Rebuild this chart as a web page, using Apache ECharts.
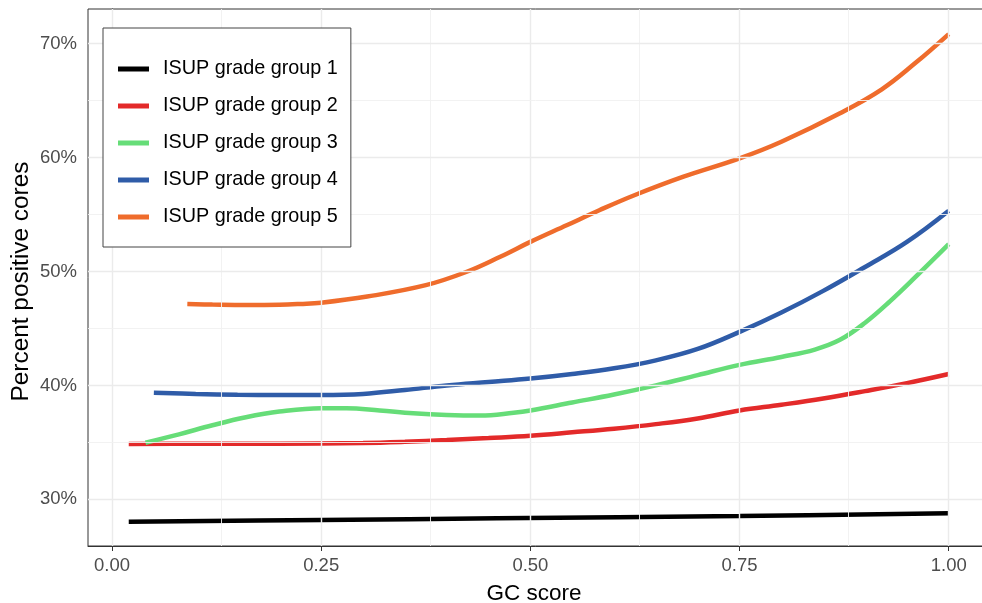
<!DOCTYPE html>
<html>
<head>
<meta charset="utf-8">
<script src="https://cdn.jsdelivr.net/npm/echarts@6/dist/echarts.min.js"></script>
<style>html,body{margin:0;padding:0;background:#fff;}#c{width:982px;height:603px;}</style>
</head>
<body>
<div id="c"></div>
<script>
// ---- data ----
const groupNames = ['ISUP grade group 1','ISUP grade group 2','ISUP grade group 3','ISUP grade group 4','ISUP grade group 5'];
const groupColors = ['#000000','#e32a2a','#66dd78','#2f5ca8','#ef6c2c'];

const g1X = [0.02, 0.25, 0.46, 0.75, 1.0];
const g1Y = [28.03, 28.18, 28.33, 28.53, 28.77];

const g2X = [0.02, 0.1, 0.2, 0.3, 0.35, 0.4, 0.45, 0.5, 0.55, 0.6, 0.65, 0.7, 0.75, 0.8, 0.85, 0.9, 0.95, 1.0];
const g2Y = [34.86, 34.87, 34.88, 34.95, 35.05, 35.2, 35.38, 35.58, 35.88, 36.2, 36.6, 37.1, 37.8, 38.3, 38.85, 39.5, 40.2, 41.0];

const g3X = [0.04, 0.08, 0.12, 0.16, 0.2, 0.25, 0.28, 0.32, 0.36, 0.4, 0.44, 0.48, 0.5, 0.55, 0.6, 0.65, 0.7, 0.75, 0.8, 0.84, 0.87, 0.9, 0.93, 0.96, 1.0];
const g3Y = [34.97, 35.7, 36.5, 37.2, 37.7, 38.0, 38.0, 37.8, 37.55, 37.4, 37.35, 37.6, 37.8, 38.5, 39.2, 40.0, 40.9, 41.8, 42.5, 43.15, 44.0, 45.5, 47.4, 49.5, 52.4];

const g4X = [0.05, 0.1, 0.15, 0.2, 0.25, 0.3, 0.35, 0.4, 0.45, 0.5, 0.55, 0.6, 0.65, 0.7, 0.75, 0.8, 0.85, 0.9, 0.95, 1.0];
const g4Y = [39.36, 39.25, 39.18, 39.16, 39.16, 39.25, 39.6, 40.0, 40.3, 40.6, 41.0, 41.5, 42.2, 43.2, 44.7, 46.4, 48.3, 50.4, 52.6, 55.34];

const g5X = [0.09, 0.12, 0.16, 0.2, 0.225, 0.25, 0.305, 0.375, 0.424, 0.464, 0.5, 0.544, 0.583, 0.625, 0.683, 0.75, 0.8, 0.87, 0.92, 0.96, 1.0];
const g5Y = [47.15, 47.1, 47.06, 47.08, 47.15, 47.26, 47.8, 48.8, 49.98, 51.3, 52.6, 54.08, 55.4, 56.72, 58.33, 59.94, 61.4, 63.9, 66.0, 68.3, 70.85];

const xTicks = [0, 0.25, 0.5, 0.75, 1.0];
const xMinor = [0.125, 0.375, 0.625, 0.875];
const yTicks = [30, 40, 50, 60, 70];
const yMinor = [35, 45, 55, 65];

const xMin = -0.0287, xMax = 1.0493;
const yMin = 25.9, yMax = 73.05;

// ---- build ----
const allX = [g1X, g2X, g3X, g4X, g5X];
const allY = [g1Y, g2Y, g3Y, g4Y, g5Y];
const font = 'Liberation Sans, Arial, sans-serif';

const gridLines = [];
xTicks.forEach(v => gridLines.push({ xAxis: v, lineStyle: { color: '#ebebeb', width: 1.4 } }));
xMinor.forEach(v => gridLines.push({ xAxis: v, lineStyle: { color: '#f0f0f0', width: 0.9 } }));
yTicks.forEach(v => gridLines.push({ yAxis: v, lineStyle: { color: '#ebebeb', width: 1.4 } }));
yMinor.forEach(v => gridLines.push({ yAxis: v, lineStyle: { color: '#f0f0f0', width: 0.9 } }));

const series = [{
  name: '_grid', type: 'line', data: [], silent: true, z: 1,
  markLine: { silent: true, symbol: 'none', label: { show: false }, animation: false,
    lineStyle: { type: 'solid' }, data: gridLines }
}];
groupNames.forEach((n, i) => {
  series.push({
    name: n, type: 'line', smooth: 0.4, symbol: 'none', showSymbol: false, z: 3,
    color: groupColors[i],
    lineStyle: { width: 4.5, color: groupColors[i], cap: 'butt' },
    data: allX[i].map((x, k) => [x, allY[i][k]])
  });
});

const chart = echarts.init(document.getElementById('c'), null, { renderer: 'canvas' });
chart.setOption({
  animation: false,
  backgroundColor: '#ffffff',
  textStyle: { fontFamily: font },
  grid: { left: 88, width: 902, top: 9, bottom: 57, show: true, borderColor: '#333333', borderWidth: 1, backgroundColor: '#ffffff', containLabel: false, outerBoundsMode: 'none' },
  legend: {
    data: groupNames, orient: 'vertical', left: 103, top: 28, z: 20,
    padding: [31, 13, 20, 15], itemWidth: 31, itemHeight: 5, itemGap: 17, icon: 'rect',
    borderColor: '#444444', borderWidth: 1, backgroundColor: '#ffffff',
    textStyle: { fontFamily: font, fontSize: 19.8, lineHeight: 20, color: '#000000', padding: [0, 0, 0, 9] },
    selectedMode: false
  },
  xAxis: {
    type: 'value', min: xMin, max: xMax,
    name: 'GC score', nameLocation: 'middle', nameGap: 36,
    nameTextStyle: { fontFamily: font, fontSize: 22.5, color: '#000000', padding: [0, 10, 0, 0] },
    axisLine: { show: true, lineStyle: { color: '#333333', width: 1 } },
    axisTick: { show: true, length: 5, lineStyle: { color: '#333333', width: 1 }, customValues: xTicks },
    axisLabel: { customValues: xTicks, margin: 10, fontFamily: font, fontSize: 18.5, color: '#4d4d4d', formatter: v => v.toFixed(2) },
    splitLine: { show: false }
  },
  yAxis: {
    type: 'value', min: yMin, max: yMax,
    name: 'Percent positive cores', nameLocation: 'middle', nameGap: 55, nameRotate: 90, nameMoveOverlap: false,
    nameTextStyle: { fontFamily: font, fontSize: 24.4, color: '#000000', padding: [0, 8, 0, 0] },
    axisLine: { show: true, lineStyle: { color: '#333333', width: 1 } },
    axisTick: { show: true, length: 5, lineStyle: { color: '#333333', width: 1 }, customValues: yTicks },
    axisLabel: { customValues: yTicks, margin: 11, fontFamily: font, fontSize: 18.5, color: '#4d4d4d', formatter: v => Math.round(v) + '%' },
    splitLine: { show: false }
  },
  series: series
});
</script>
</body>
</html>
